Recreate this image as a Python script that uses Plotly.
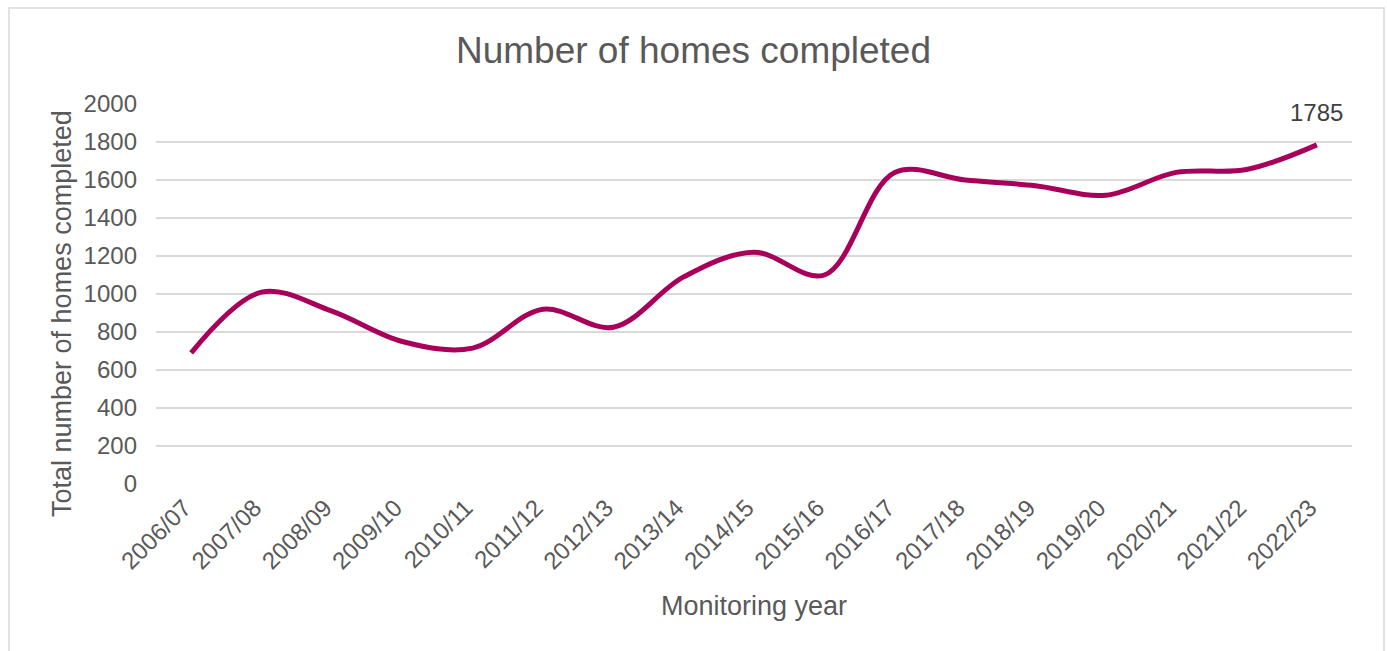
import plotly.graph_objects as go

years = ["2006/07", "2007/08", "2008/09", "2009/10", "2010/11", "2011/12", "2012/13",
         "2013/14", "2014/15", "2015/16", "2016/17", "2017/18", "2018/19", "2019/20",
         "2020/21", "2021/22", "2022/23"]
homes = [690, 1010, 910, 750, 715, 920, 825, 1090, 1220, 1100, 1640, 1600, 1570, 1520,
         1640, 1655, 1785]
y_ticks = list(range(0, 2001, 200))

W, H = 1387, 651
L, R, T, B = 156, 35, 104, 167
pw, ph = W - L - R, H - T - B

def px_x(p):
    return (p - L) / pw

def px_y(p):
    return 1 - (p - T) / ph

TXT = "#595959"
FONT = "Liberation Sans, Arial, sans-serif"

fig = go.Figure()
fig.add_trace(go.Scatter(
    x=years, y=homes, mode="lines",
    line=dict(color="#A8005A", width=5, shape="spline", smoothing=1),
    hoverinfo="x+y", showlegend=False,
))

fig.add_annotation(x=years[-1], y=homes[-1], text=str(homes[-1]), showarrow=False,
                   yshift=32, font=dict(size=24, color="#404040", family=FONT))

fig.add_annotation(xref="paper", yref="paper", x=0.5, y=px_y(606), text="Monitoring year",
                   showarrow=False, font=dict(size=27, color=TXT, family=FONT),
                   xanchor="center", yanchor="middle")
fig.add_annotation(xref="paper", yref="paper", x=px_x(62), y=px_y(314),
                   text="Total number of homes completed", textangle=-90,
                   showarrow=False, font=dict(size=27, color=TXT, family=FONT),
                   xanchor="center", yanchor="middle")

fig.add_shape(type="rect", xref="paper", yref="paper",
              x0=px_x(9), x1=px_x(1384), y0=px_y(700), y1=px_y(8),
              line=dict(color="#D9D9D9", width=1.5), fillcolor="rgba(0,0,0,0)", layer="below")

fig.update_layout(
    width=W, height=H,
    margin=dict(l=L, r=R, t=T, b=B, pad=0),
    paper_bgcolor="white", plot_bgcolor="white",
    title=dict(text="Number of homes completed", x=0.5, xref="container", xanchor="center",
               y=1 - 50 / H, yref="container", yanchor="middle",
               font=dict(size=37, color=TXT, family=FONT)),
    xaxis=dict(type="category", range=[-0.5, len(years) - 0.5], tickangle=-45,
               showgrid=False, showline=False, ticks="", zeroline=False,
               ticklabelshift=-7, ticklabelstandoff=4,
               tickfont=dict(size=24, color=TXT, family=FONT), fixedrange=True),
    yaxis=dict(range=[0, 2000], tickvals=y_ticks, showgrid=True, gridcolor="#D9D9D9",
               gridwidth=1.5, zeroline=False, showline=False, ticks="",
               ticklabelstandoff=18,
               tickfont=dict(size=24, color=TXT, family=FONT), fixedrange=True),
)

fig.write_html("out.html", config={"displayModeBar": False},
               post_script="document.body.style.margin='0';")
